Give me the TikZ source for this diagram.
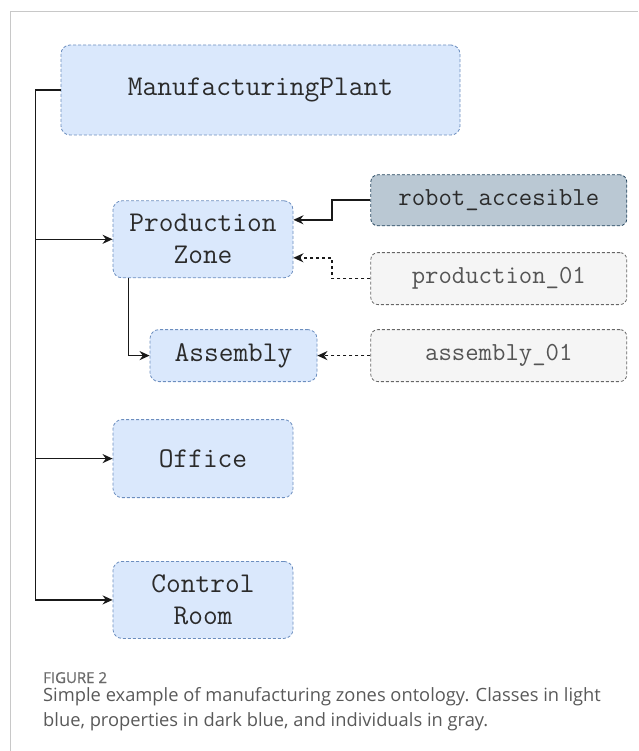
\documentclass[tikz,border=0pt]{standalone}
\usepackage{fontspec}
\newfontfamily\captionfont{Open Sans}
\newfontfamily\captionheadfont[FakeBold=0.8]{Open Sans}
\usetikzlibrary{positioning, arrows.meta, calc}

\definecolor{classfill}{HTML}{DAE8FC}
\definecolor{classdraw}{HTML}{6C8EBF}
\definecolor{propfill}{HTML}{BAC8D3}
\definecolor{propdraw}{HTML}{23445D}
\definecolor{indivfill}{HTML}{F5F5F5}
\definecolor{indivdraw}{HTML}{666666}
\definecolor{textdark}{HTML}{2B2B2B}
\definecolor{framegray}{HTML}{C8C8C8}
\definecolor{captiongray}{HTML}{595959}

\begin{document}
\begin{tikzpicture}[
    x=1pt, y=-1pt,
    class/.style={rectangle, rounded corners=9pt, draw=classdraw, fill=classfill, dash pattern=on 3pt off 2pt, line width=0.8pt, font=\ttfamily\fontsize{28.6}{32}\selectfont, text=textdark, align=center, inner sep=0pt},
    prop/.style={rectangle, rounded corners=7pt, draw=propdraw, fill=propfill, dash pattern=on 3pt off 2pt, line width=0.8pt, font=\ttfamily\fontsize{26}{30}\selectfont, text=textdark, minimum width=256pt, minimum height=51pt, inner sep=0pt},
    indiv/.style={prop, draw=indivdraw, fill=indivfill, text=textdark!80},
    arrow/.style={-{Stealth[length=10pt, width=9pt]}, line width=1.6pt, black!90},
    dasharrow/.style={arrow, dash pattern=on 3.5pt off 2.5pt},
    frame/.style={draw=framegray, line width=1pt},
]
\useasboundingbox (0,0) rectangle (638,751);
\draw[frame] (10,751) -- (10,12) -- (638,12);

%% NODES
    % classes
    \node[class, minimum width=399pt, minimum height=90pt] (mp) at (260.5,90) {ManufacturingPlant};
    \node[class, minimum width=180pt, minimum height=77pt, below right=65pt and 52pt of mp.south west] (pz) {Production\\Zone};
    \node[class, minimum width=167pt, minimum height=52pt, below right=51pt and 37pt of pz.south west] (asm) {Assembly};
    \node[class, minimum width=180pt, minimum height=78pt, below=141pt of pz] (office) {Office};
    \node[class, minimum width=180pt, minimum height=77pt, below=63pt of office] (control) {Control\\Room};

    % property
    \node[prop, right=77pt of pz, yshift=39pt] (robot) {robot\_accesible};

    % individuals
    \node[indiv, minimum height=52pt, below=26pt of robot] (prod01) {production\_01};
    \node[indiv, minimum height=52pt, right=53pt of asm] (asm01) {assembly\_01};

    % caption
    \node[anchor=base west, inner sep=0pt, font=\captionheadfont\fontsize{15}{18}\selectfont, text=captiongray!90] (fig_label) at (43,683) {FIGURE 2};
    \node[anchor=base west, inner sep=0pt, align=left, font=\captionfont\fontsize{18.3}{25}\selectfont, text=captiongray] (fig_caption) at (43,726) {Simple example of manufacturing zones ontology. Classes in light\\blue, properties in dark blue, and individuals in gray.};

%% CONNECTIONS
    % plant -> zones
    \coordinate (spine) at ([xshift=-25pt]mp.west);
    \draw[arrow] (mp.west) -- (spine) |- (control.west);
    \draw[arrow] (spine |- pz.west) -- (pz.west);
    \draw[arrow] (spine |- office.west) -- (office.west);

    % production zone -> assembly
    \draw[arrow] ([xshift=16pt]pz.south west) |- (asm.west);

    % property -> production zone
    \draw[arrow] (robot.west) -- ++(-38.5pt,0) |- ([yshift=19.5pt]pz.east);

    % individuals -> classes
    \draw[dasharrow] (prod01.west) -- ++(-38.5pt,0) |- ([yshift=-18.5pt]pz.east);
    \draw[dasharrow] (asm01.west) -- (asm.east);

\end{tikzpicture}
\end{document}
